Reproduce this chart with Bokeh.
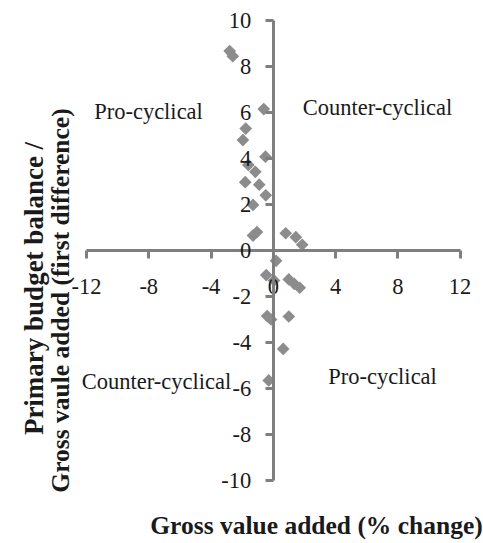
import math
from bokeh.plotting import figure
from bokeh.models import LinearAxis, FixedTicker, Range1d, Label
from bokeh.embed import file_html
from bokeh.resources import INLINE

# ---- data ----
gva_change = [-2.8, -2.6, -0.61, -1.77, -1.95, -0.5, -1.6, -1.15, -1.8, -0.9, -0.48, -1.3,
              -1.05, -1.3, 0.8, 1.45, 1.86, 0.18, -0.45, 0.05, 1.0, 1.35, 1.7,
              -0.39, -0.14, 1.0, 0.64, -0.29]
budget_diff = [8.67, 8.45, 6.15, 5.3, 4.8, 4.08, 3.72, 3.42, 2.97, 2.86, 2.4, 1.98,
               0.8, 0.65, 0.75, 0.58, 0.25, -0.45, -1.07, -1.3, -1.26, -1.45, -1.62,
               -2.85, -3.0, -2.87, -4.28, -5.65]
x_ticks = [-12, -8, -4, 0, 4, 8, 12]
y_ticks = [-10, -8, -6, -4, -2, 0, 2, 4, 6, 8, 10]
quadrant_labels = ["Pro-cyclical", "Counter-cyclical", "Counter-cyclical", "Pro-cyclical"]
x_title = "Gross value added (% change)"
y_title = ["Primary budget balance /", "Gross vaule added (first difference)"]

# ---- layout ----
W, H = 483, 543
PX_L, PX_R = 86.0, 459.5     # pixel of x=-12 and x=12
PY_T, PY_B = 20.0, 480.0     # pixel of y=10 and y=-10
sx = (PX_R - PX_L) / 24.0
sy = (PY_B - PY_T) / 20.0
x0 = -12 - PX_L / sx
x1 = x0 + W / sx
y1 = 10 + PY_T / sy
y0 = y1 - H / sy


def dx(px):
    return x0 + px / sx


def dy(py):
    return y1 - py / sy


FONT = "Liberation Serif"
AXIS_COLOR = "#7f7f7f"
TEXT_COLOR = "#1a1a1a"

p = figure(width=W, height=H, x_range=Range1d(x0, x1), y_range=Range1d(y0, y1),
           output_backend="svg", toolbar_location=None,
           x_axis_location=None, y_axis_location=None,
           min_border=0, min_border_left=0, min_border_right=0,
           min_border_top=0, min_border_bottom=0)
p.outline_line_color = None
p.background_fill_color = "white"
p.border_fill_color = "white"
for g in p.grid:
    g.visible = False


def style_axis(ax, standoff, ticks):
    ax.axis_line_color = AXIS_COLOR
    ax.axis_line_width = 3
    ax.major_tick_line_color = AXIS_COLOR
    ax.major_tick_line_width = 3
    ax.major_tick_in = 0
    ax.major_tick_out = 8
    ax.minor_tick_in = 0
    ax.minor_tick_out = 0
    ax.minor_tick_line_color = None
    ax.major_label_text_font = FONT
    ax.major_label_text_font_size = "22.5px"
    ax.major_label_text_color = TEXT_COLOR
    ax.major_label_standoff = standoff
    ax.major_label_overrides = {t: str(t) for t in ticks}


xa = LinearAxis(fixed_location=0, bounds=(-12, 12), ticker=FixedTicker(ticks=x_ticks))
style_axis(xa, 20, x_ticks)
p.add_layout(xa, "below")

ya = LinearAxis(fixed_location=0, bounds=(-10, 10), ticker=FixedTicker(ticks=y_ticks))
style_axis(ya, 14, y_ticks)
p.add_layout(ya, "left")

p.scatter(gva_change, budget_diff, marker="square", angle=math.pi / 4, size=9,
          fill_color="#8c8c8c", line_color=None)

# quadrant labels
q_pos = [(148, 111), (377, 107), (156, 381), (382, 376)]
for txt, (px, py) in zip(quadrant_labels, q_pos):
    p.add_layout(Label(x=dx(px), y=dy(py), text=txt, text_font=FONT,
                       text_font_size="22.5px", text_color=TEXT_COLOR,
                       text_align="center", text_baseline="middle"))

# axis titles
p.add_layout(Label(x=dx(316), y=dy(525), text=x_title, text_font=FONT,
                   text_font_size="25.5px", text_font_style="bold", text_color=TEXT_COLOR,
                   text_align="center", text_baseline="middle"))
for txt, px, py, fs in zip(y_title, [33, 60], [288, 300], ["27px", "25.5px"]):
    p.add_layout(Label(x=dx(px), y=dy(py), text=txt, text_font=FONT,
                       text_font_size=fs, text_font_style="bold", text_color=TEXT_COLOR,
                       text_align="center", text_baseline="middle", angle=math.pi / 2))

open("out.html", "w").write(file_html(p, INLINE))
